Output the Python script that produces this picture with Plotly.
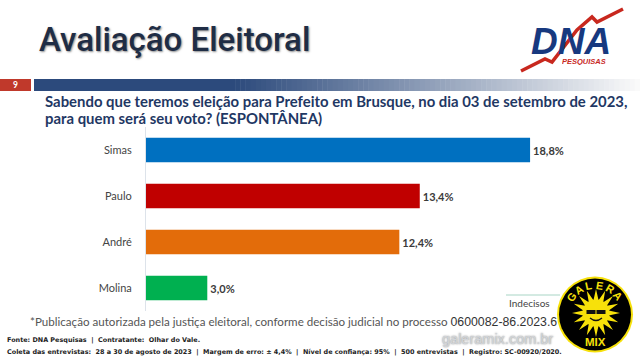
import math
import plotly.graph_objects as go

candidates = ["Simas", "Paulo", "André", "Molina"]
percent = [18.8, 13.4, 12.4, 3.0]
bar_colors = ["#0070C0", "#C00000", "#E36C0A", "#00B050"]
value_labels = ["18,8%", "13,4%", "12,4%", "3,0%"]

W, H = 640, 360
def px(x): return x / W
def py(y): return 1 - y / H

fig = go.Figure(go.Bar(
    y=candidates, x=percent, orientation="h",
    marker=dict(color=bar_colors, line=dict(width=0)),
    width=0.53,
    text=value_labels, textposition="outside", cliponaxis=False,
    textfont=dict(family="Lato", size=11, color="#3A3A3A", weight="bold"),
    hoverinfo="skip",
))

shapes, ann = [], []
def rect(x0, y0, x1, y1, color):
    shapes.append(dict(type="rect", xref="paper", yref="paper", x0=px(x0), x1=px(x1),
                       y0=py(y0), y1=py(y1), fillcolor=color, line=dict(width=0), layer="below"))
def text(x, y, s, size, color, family="Lato", weight="normal", anchor="left", angle=0, shadow=None, style="normal", height=None):
    f = dict(family=family, size=size, color=color, weight=weight, style=style)
    if shadow:
        f["shadow"] = shadow
    a = dict(xref="paper", yref="paper", x=px(x), y=py(y), text=s, showarrow=False,
             xanchor=anchor, yanchor="middle", font=f, textangle=angle)
    if height:
        a["height"] = height
    ann.append(a)

# page number and gradient band
rect(0, 79, 31, 91, "#C0392B")
rect(34, 79, 230, 91, "#2C4A7C")
N = 80
for i in range(N):
    t = i / (N - 1)
    x0 = 230 + (640 - 230) * i / N
    x1 = 230 + (640 - 230) * (i + 1) / N + 0.5
    r = int(44 + (250 - 44) * t); g = int(74 + (250 - 74) * t); b = int(124 + (250 - 124) * t)
    rect(x0, 79, x1, 91, f"rgb({r},{g},{b})")
text(15, 85, "9", 8.5, "white", weight="bold", anchor="center")

# titles
text(37, 39, "Avaliação Eleitoral", 33, "#1F2D45", family="Roboto", weight=500,
     shadow="1px 1px 2px rgba(90,90,90,0.7)")
text(42.5, 101, "Sabendo que teremos eleição para Prefeito em Brusque, no dia 03 de setembro de 2023,",
     14.9, "#1F3864", weight="bold")
text(42.5, 118, "para quem será seu voto? (ESPONTÂNEA)", 14.9, "#1F3864", weight="bold")

# logo
shapes.append(dict(type="path", xref="paper", yref="paper",
    path="M {} {} L {} {} L {} {} L {} {} L {} {} L {} {} L {} {}".format(
        px(521), py(71), px(545), py(59), px(552), py(62), px(577), py(30),
        px(592), py(17), px(597), py(22), px(623), py(9)),
    line=dict(color="#C8281E", width=3.5), layer="above"))
text(571, 41, "DNA", 37, "#17397F", family="Liberation Sans", weight="bold", anchor="center", style="italic", height=26)
text(584, 61, "PESQUISAS", 7.5, "#C8281E", family="Liberation Sans", weight="bold", anchor="center", style="italic", height=8)

# undecided stub
shapes.append(dict(type="line", xref="paper", yref="paper", x0=px(506), x1=px(560), y0=py(295), y1=py(295),
                   line=dict(color="#A8D5C5", width=1)))
text(507, 303, "Indecisos", 10, "#444444")

# footers
text(28, 322, "*Publicação autorizada pela justiça eleitoral, conforme decisão judicial no processo "
     "<span style=\"font-family:'Liberation Sans';font-size:12.3px;fill:#333333\">0600082-86.2023.6</span>",
     11.6, "#555555")
text(5, 340, "Fonte: DNA Pesquisas  |  Contratante:  Olhar do Vale.", 6.45, "#222222", family="DejaVu Sans", weight="bold")
text(5, 352, "Coleta das entrevistas:  28 a 30 de agosto de 2023  |  Margem de erro: ± 4,4%  |  Nível de confiança: 95%  |  500 entrevistas  |  Registro: SC-00920/2020.",
     6.45, "#222222", family="DejaVu Sans", weight="bold")
text(497, 339, "galeramix.com.br", 14.5, "#D2D5D9", anchor="center", family="Liberation Sans",
     shadow="0 0 2px #777777")

# badge
cx, cy, R = 595, 314.5, 38
def ell(cx, cy, r, fill, lc=None, lw=0):
    shapes.append(dict(type="circle", xref="paper", yref="paper", x0=px(cx - r), x1=px(cx + r),
                       y0=py(cy + r), y1=py(cy - r), fillcolor=fill,
                       line=dict(color=lc or fill, width=lw), layer="above"))
ell(cx, cy, R, "#F7E10A")
ell(cx, cy, R - 2, "#000000")
sx, sy = 596, 313
pts = []
for i in range(32):
    a = 2 * math.pi * i / 32
    r = 24 if i % 2 == 0 else 13
    pts.append(f"{px(sx + r * math.sin(a))} {py(sy - r * math.cos(a))}")
shapes.append(dict(type="path", xref="paper", yref="paper", path="M " + " L ".join(pts) + " Z",
                   fillcolor="#F7E10A", line=dict(width=0), layer="above"))
ell(sx, sy, 13.5, "#F7E10A")
for dx in (-5, 5):
    shapes.append(dict(type="rect", xref="paper", yref="paper", x0=px(sx + dx - 4.5), x1=px(sx + dx + 4.5),
                       y0=py(sy + 1), y1=py(sy - 3), fillcolor="#111111", line=dict(width=0), layer="above"))
shapes.append(dict(type="path", xref="paper", yref="paper",
    path=f"M {px(sx-6)} {py(sy+5)} Q {px(sx)} {py(sy+10)} {px(sx+6)} {py(sy+5)}",
    line=dict(color="#111111", width=1.3), layer="above"))
for ch, ang in zip("GALERA", [-52, -32, -12, 9, 30, 50]):
    a = math.radians(ang)
    text(cx + 29.5 * math.sin(a), cy - 29.5 * math.cos(a), ch, 11, "#F7E10A",
         family="Liberation Sans", weight="bold", anchor="center", angle=ang, height=11)
text(cx, 342, "MIX", 11.5, "#F7E10A", family="Liberation Sans", weight="bold", anchor="center")

px_per_unit = 20.43
fig.update_layout(
    width=W, height=H, autosize=False, margin=dict(l=0, r=0, t=0, b=0),
    paper_bgcolor="white", plot_bgcolor="white", showlegend=False,
    bargap=0.47, shapes=shapes, annotations=ann,
    font=dict(family="Lato"),
    xaxis=dict(domain=[px(146), px(630)], range=[0, 484 / px_per_unit], visible=False),
    yaxis=dict(domain=[py(311), py(127)], autorange="reversed", showline=True, linecolor="#DDE3EA",
               linewidth=1, ticks="", ticklen=0, showgrid=False,
               tickfont=dict(family="Lato", size=11, color="#444444"), ticklabelstandoff=11),
)
fig.write_html("out.html", config={"displayModeBar": False},
               post_script="document.body.style.margin='0';")
